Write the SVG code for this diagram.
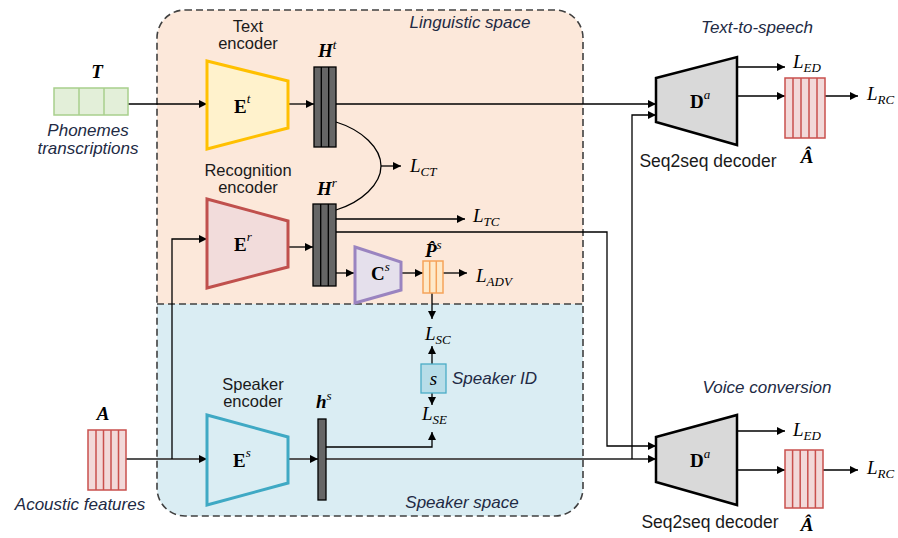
<svg xmlns="http://www.w3.org/2000/svg" width="898" height="538" viewBox="0 0 898 538">
<defs>
<marker id="ah" markerUnits="userSpaceOnUse" markerWidth="9" markerHeight="9" refX="8" refY="4" orient="auto">
<path d="M0,0 L8,4 L0,8 Z" fill="#000"/>
</marker>
</defs>
<style>
.lbl{font-family:"Liberation Sans","Noto Sans",sans-serif;font-size:17.5px;fill:#1a1a1a;text-anchor:middle}
.enc{font-size:16.5px}
.it{font-family:"Liberation Sans","Noto Sans",sans-serif;font-size:17px;font-style:italic;fill:#222a44;text-anchor:middle}
.m{font-family:"Liberation Serif","DejaVu Serif",serif;font-size:19px;font-weight:bold;font-style:italic;fill:#000}
.e{font-family:"Liberation Serif","DejaVu Serif",serif;font-size:19px;font-weight:bold;fill:#000}
.sup{font-size:13px;font-style:italic;font-weight:normal}
.L{font-family:"Liberation Serif","DejaVu Serif",serif;font-size:19px;font-style:italic;fill:#000}
.sub{font-size:13px}
.ln{fill:none;stroke:#000;stroke-width:1.3}
.gl{fill:none;stroke:#555;stroke-width:2}
.bar{fill:#666;stroke:#000;stroke-width:1.3}
.red{fill:#f2d9d9;stroke:#c9504d;stroke-width:1.5}
.dec{fill:#d9d9d9;stroke:#000;stroke-width:2.5}
</style>
<g id="regions">
<path d="M157,304 V38 A28,28 0 0 1 185,10 H555 A28,28 0 0 1 583,38 V304 Z" fill="#fce8da"/>
<path d="M157,304 V488 A28,28 0 0 0 185,516 H555 A28,28 0 0 0 583,488 V304 Z" fill="#daedf3"/>
<rect x="157" y="10" width="426" height="506" rx="28" ry="28" fill="none" stroke="#404040" stroke-width="1.6" stroke-dasharray="7,4"/>
<line x1="157" y1="304" x2="583" y2="304" stroke="#404040" stroke-width="1.6" stroke-dasharray="7,4"/>
<text class="it" x="470" y="28">Linguistic space</text>
<text class="it" x="462" y="508">Speaker space</text>
</g>
<g id="connectors">
<line class="ln" x1="128" y1="104" x2="207" y2="104" marker-end="url(#ah)"/>
<line class="ln" x1="288" y1="104" x2="314" y2="104" marker-end="url(#ah)"/>
<line class="ln" x1="336" y1="104" x2="656" y2="104" marker-end="url(#ah)"/>
<path class="ln" d="M336,122 C362,130 381,148 381,166 C381,184 362,202 336,210" stroke="#333"/>
<line class="ln" x1="381" y1="166" x2="401" y2="166" marker-end="url(#ah)"/>
<line class="ln" x1="288" y1="247" x2="313" y2="247" marker-end="url(#ah)"/>
<line class="ln" x1="336" y1="219" x2="465" y2="219" marker-end="url(#ah)"/>
<polyline class="ln" points="336,232 607,232 607,446 656,446" marker-end="url(#ah)"/>
<polyline class="ln" points="336,273 354,273" marker-end="url(#ah)"/>
<line class="ln" x1="401" y1="273" x2="423" y2="273" marker-end="url(#ah)"/>
<line class="ln" x1="443" y1="273" x2="467" y2="273" marker-end="url(#ah)"/>
<line class="ln" x1="432" y1="293" x2="432" y2="319" marker-end="url(#ah)"/>
<line class="ln" x1="432" y1="364" x2="432" y2="346" marker-end="url(#ah)"/>
<line class="ln" x1="432" y1="393" x2="432" y2="405" marker-end="url(#ah)"/>
<polyline class="ln" points="326,447 432,447 432,432" marker-end="url(#ah)"/>
<line class="gl" x1="126" y1="459" x2="207" y2="459" marker-end="url(#ah)"/>
<polyline class="ln" points="172,459 172,239 207,239" marker-end="url(#ah)"/>
<line class="gl" x1="288" y1="459" x2="318" y2="459" marker-end="url(#ah)"/>
<line class="gl" x1="326" y1="459" x2="656" y2="459" marker-end="url(#ah)"/>
<polyline class="ln" points="632,459 632,115 656,115" stroke="#444" marker-end="url(#ah)"/>
<line class="ln" x1="737" y1="67" x2="785" y2="67" marker-end="url(#ah)"/>
<line class="ln" x1="737" y1="96" x2="785" y2="96" marker-end="url(#ah)"/>
<line class="ln" x1="825" y1="96" x2="858" y2="96" marker-end="url(#ah)"/>
<line class="ln" x1="737" y1="431" x2="785" y2="431" marker-end="url(#ah)"/>
<line class="ln" x1="737" y1="470" x2="785" y2="470" marker-end="url(#ah)"/>
<line class="ln" x1="823" y1="470" x2="858" y2="470" marker-end="url(#ah)"/>
</g>
<g id="T">
<rect x="54" y="88" width="74" height="27" fill="#e3efd9" stroke="#a8cf8c" stroke-width="1.5"/>
<line x1="79" y1="88" x2="79" y2="115" stroke="#a8cf8c" stroke-width="1.5"/>
<line x1="104" y1="88" x2="104" y2="115" stroke="#a8cf8c" stroke-width="1.5"/>
<text class="m" x="97" y="78" text-anchor="middle">T</text>
<text class="it" x="88" y="136">Phonemes</text>
<text class="it" x="88" y="154">transcriptions</text>
</g>
<g id="A">
<rect class="red" x="88" y="430" width="38" height="60"/>
<path d="M96,430V490M103.5,430V490M111,430V490M118.5,430V490" stroke="#c9504d" stroke-width="1.5"/>
<text class="m" x="103" y="420" text-anchor="middle">A</text>
<text class="it" x="80" y="510">Acoustic features</text>
</g>
<g id="Et">
<polygon points="207,61 288,81 288,128 207,149" fill="#fff2cc" stroke="#ffc000" stroke-width="3"/>
<text class="e" x="234" y="113">E<tspan class="sup" dy="-10">t</tspan></text>
<text class="lbl enc" x="248" y="32">Text</text>
<text class="lbl enc" x="248" y="49">encoder</text>
</g>
<g id="Er">
<polygon points="207,199 288,221 288,267 207,288" fill="#f2dcdb" stroke="#c0504d" stroke-width="3"/>
<text class="e" x="234" y="251">E<tspan class="sup" dy="-10">r</tspan></text>
<text class="lbl enc" x="248" y="176">Recognition</text>
<text class="lbl enc" x="248" y="193">encoder</text>
</g>
<g id="Es">
<polygon points="207,415 288,437 288,483 207,505" fill="#daedf3" stroke="#3fa9c4" stroke-width="3"/>
<text class="e" x="233" y="467">E<tspan class="sup" dy="-10">s</tspan></text>
<text class="lbl enc" x="253" y="390">Speaker</text>
<text class="lbl enc" x="253" y="407">encoder</text>
</g>
<g id="Ht">
<rect class="bar" x="314" y="67" width="22" height="80"/>
<path d="M321.3,67V147M328.7,67V147" stroke="#000" stroke-width="1.3"/>
<text class="m" x="318" y="57">H<tspan class="sup" dy="-8">t</tspan></text>
</g>
<g id="Hr">
<rect class="bar" x="313" y="204" width="23" height="82"/>
<path d="M320.7,204V286M328.3,204V286" stroke="#000" stroke-width="1.3"/>
<text class="m" x="317" y="195">H<tspan class="sup" dy="-8">r</tspan></text>
</g>
<g id="hs">
<rect class="bar" x="318" y="419" width="8" height="81"/>
<text class="m" x="316" y="408">h<tspan class="sup" dy="-8">s</tspan></text>
</g>
<g id="LCT"><text class="L" x="410" y="172">L<tspan class="sub" dy="4">CT</tspan></text></g>
<g id="LTC"><text class="L" x="473" y="222">L<tspan class="sub" dy="4">TC</tspan></text></g>
<g id="Cs">
<polygon points="355,247 401,262 401,290 355,303" fill="#e5e0ec" stroke="#9a84c0" stroke-width="3"/>
<text class="e" x="371" y="280">C<tspan class="sup" dy="-9">s</tspan></text>
</g>
<g id="Ps">
<rect x="423" y="261" width="20" height="32" fill="#fee9c9" stroke="#f5a35a" stroke-width="1.5"/>
<path d="M429.7,261V293M436.3,261V293" stroke="#f5a35a" stroke-width="1.5"/>
<text class="m" x="425" y="257">P&#770;<tspan class="sup" dy="-8">s</tspan></text>
</g>
<g id="LADV"><text class="L" x="476" y="282">L<tspan class="sub" dy="4">ADV</tspan></text></g>
<g id="LSC"><text class="L" x="425" y="340">L<tspan class="sub" dy="4">SC</tspan></text></g>
<g id="spk">
<rect x="421" y="364" width="25" height="29" fill="#b7dde8" stroke="#4bacc6" stroke-width="1.3"/>
<text class="L" x="433.5" y="385" text-anchor="middle" font-size="16">s</text>
<text class="it" x="452" y="384" style="text-anchor:start">Speaker ID</text>
</g>
<g id="LSE"><text class="L" x="422" y="420">L<tspan class="sub" dy="4">SE</tspan></text></g>
<g id="tts">
<text class="it" x="757" y="33">Text-to-speech</text>
<polygon class="dec" points="656,78 737,57 737,145 656,122"/>
<text class="e" x="690" y="108">D<tspan class="sup" dy="-9">a</tspan></text>
<text class="lbl" x="708" y="167">Seq2seq decoder</text>
<text class="L" x="793" y="68">L<tspan class="sub" dy="4">ED</tspan></text>
<rect class="red" x="785" y="78" width="40" height="60"/>
<path d="M793,78V138M801,78V138M809,78V138M817,78V138" stroke="#c9504d" stroke-width="1.5"/>
<text class="L" x="867" y="100">L<tspan class="sub" dy="4">RC</tspan></text>
<text class="m" x="807" y="163" text-anchor="middle">Â</text>
</g>
<g id="vc">
<text class="it" x="767" y="393">Voice conversion</text>
<polygon class="dec" points="656,437 737,415 737,505 656,482"/>
<text class="e" x="690" y="467">D<tspan class="sup" dy="-9">a</tspan></text>
<text class="lbl" x="710" y="528">Seq2seq decoder</text>
<text class="L" x="793" y="436">L<tspan class="sub" dy="4">ED</tspan></text>
<rect class="red" x="785" y="450" width="38" height="58"/>
<path d="M792.6,450V508M800.2,450V508M807.8,450V508M815.4,450V508" stroke="#c9504d" stroke-width="1.5"/>
<text class="L" x="867" y="474">L<tspan class="sub" dy="4">RC</tspan></text>
<text class="m" x="807" y="531" text-anchor="middle">Â</text>
</g>
</svg>
